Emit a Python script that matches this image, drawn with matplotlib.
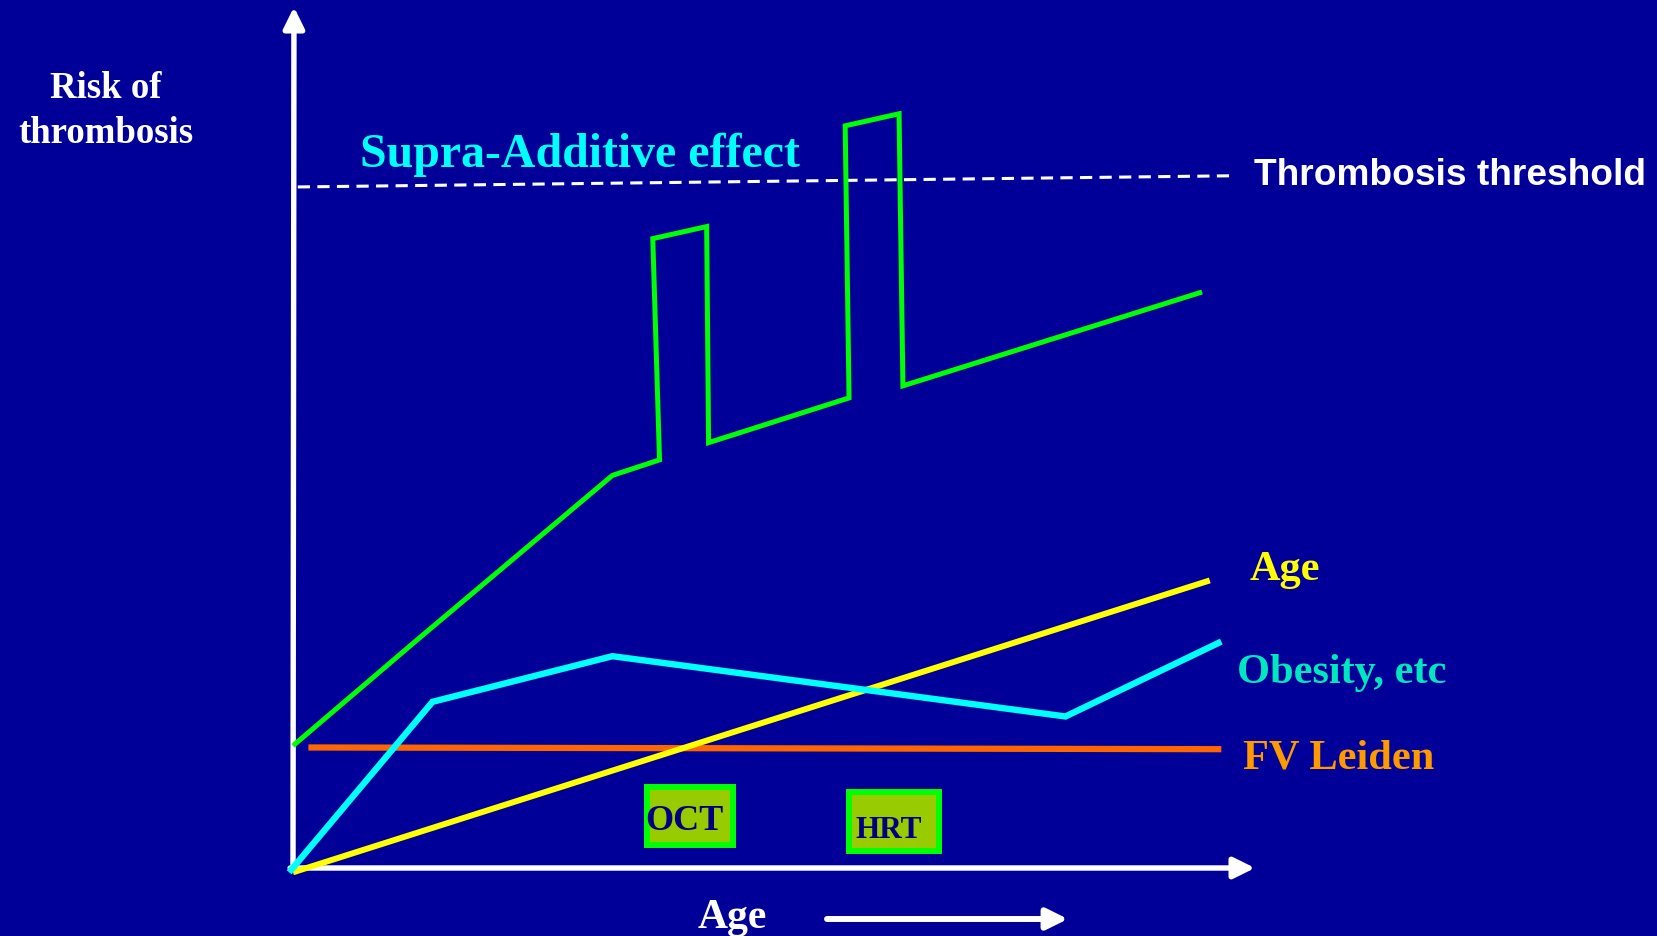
import matplotlib
matplotlib.use("Agg")
import matplotlib.pyplot as plt
from matplotlib.patches import Rectangle

# ---- data (age on x, relative risk on y; both on a 0-100 scale) ----
age_line_age = [0.0, 95.3]
age_line_risk = [-0.5, 33.4]

obesity_age = [-0.4, 14.5, 33.2, 80.3, 96.5]
obesity_risk = [-0.5, 19.3, 24.6, 17.6, 26.3]

fvl_age = [1.6, 96.5]
fvl_risk = [14.0, 13.8]

combined_age = [0.0, 12.8, 33.2, 38.1, 37.4, 43.0, 43.2, 57.8, 57.4, 63.0, 63.4, 94.5]
combined_risk = [14.2, 26.4, 45.6, 47.4, 73.1, 74.5, 49.4, 54.6, 86.2, 87.6, 56.0, 66.9]

threshold_age = [0.5, 97.8]
threshold_risk = [79.1, 80.4]

series_labels = ["Age", "Obesity, etc", "FV Leiden"]
event_labels = ["OCT", "HRT"]

# ---- figure ----
W, H = 1657, 937
BG = "#000099"
fig = plt.figure(figsize=(W / 100, H / 100), dpi=100, facecolor=BG)

def fx(px):
    return px / W

def fy(py):
    return 1 - py / H

# plotting area: origin of the arrows at pixel (293, 869)
x0, y0, x1, y1 = 293, 869, 1255, 8
ax = fig.add_axes([fx(x0), fy(y0), fx(x1) - fx(x0), fy(y1) - fy(y0)])
ax.set_xlim(0, 100)
ax.set_ylim(0, 100)
ax.set_facecolor("none")
ax.axis("off")

serif = "Liberation Serif"
sans = "Liberation Sans"

# axes arrows
arrow_kw = dict(arrowstyle="-|>,head_length=0.85,head_width=0.42", color="white",
                lw=3.9, mutation_scale=15, shrinkA=0, shrinkB=0)
ax.annotate("", xy=(0.1, 100), xytext=(0, 0), xycoords="data",
            arrowprops=arrow_kw, annotation_clip=False)
ax.annotate("", xy=(100, 0), xytext=(-0.3, 0), xycoords="data",
            arrowprops=arrow_kw, annotation_clip=False)

# threshold
ax.plot(threshold_age, threshold_risk, color="white", lw=2.2,
        dashes=(4.0, 2.4), clip_on=False, zorder=2)

# risk curves
ax.plot(fvl_age, fvl_risk, color="#ff6600", lw=4.5, clip_on=False, zorder=3,
        solid_capstyle="butt")
ax.plot(age_line_age, age_line_risk, color="#ffff00", lw=4.3, clip_on=False, zorder=4,
        solid_capstyle="butt")
ax.plot(obesity_age, obesity_risk, color="#00ffff", lw=4.6, clip_on=False, zorder=5,
        solid_capstyle="butt", solid_joinstyle="miter")
ax.plot(combined_age, combined_risk, color="#00ff00", lw=3.6, clip_on=False, zorder=6,
        solid_capstyle="butt", solid_joinstyle="miter")

# event boxes (OCT, HRT)
def box(left, top, right, bottom):
    r = Rectangle((fx(left), fy(bottom)), fx(right) - fx(left), fy(top) - fy(bottom),
                  transform=fig.transFigure, facecolor="#99cc00", edgecolor="#00ff00",
                  lw=4.3, zorder=1)
    fig.add_artist(r)

box(647, 788, 733, 846)
box(849, 793, 939, 852)

fig.text(fx(645), fy(830), event_labels[0], color="#000080", fontsize=26,
         fontfamily=serif, fontweight="bold", va="baseline", ha="left", zorder=3)
fig.text(fx(855), fy(838), event_labels[1], color="#000080", fontsize=22.5,
         fontfamily=serif, fontweight="bold", va="baseline", ha="left", zorder=3)

# titles and labels
fig.text(fx(106), fy(98), "Risk of", color="white", fontsize=26.5,
         fontfamily=serif, fontweight="bold", ha="center", va="baseline")
fig.text(fx(106), fy(143), "thrombosis", color="white", fontsize=26.5,
         fontfamily=serif, fontweight="bold", ha="center", va="baseline")
fig.text(fx(360), fy(167), "Supra-Additive effect", color="#00ffff", fontsize=34.5,
         fontfamily=serif, fontweight="bold", ha="left", va="baseline")
fig.text(fx(1254), fy(185), "Thrombosis threshold", color="white", fontsize=26.7,
         fontfamily=sans, fontweight="bold", ha="left", va="baseline")

fig.text(fx(1250), fy(580), series_labels[0], color="#ffff00", fontsize=30.5,
         fontfamily=serif, fontweight="bold", ha="left", va="baseline")
fig.text(fx(1237), fy(683), series_labels[1], color="#00e6bf", fontsize=30.5,
         fontfamily=serif, fontweight="bold", ha="left", va="baseline")
fig.text(fx(1243), fy(769), series_labels[2], color="#ff9900", fontsize=30.5,
         fontfamily=serif, fontweight="bold", ha="left", va="baseline")

# x-axis caption with its arrow
fig.text(fx(698), fy(928), "Age", color="white", fontsize=30,
         fontfamily=serif, fontweight="bold", ha="left", va="baseline")
fig.add_artist(matplotlib.patches.FancyArrowPatch(
    (fx(827), fy(920)), (fx(1068), fy(920)), transform=fig.transFigure,
    arrowstyle="-|>,head_length=0.85,head_width=0.42", mutation_scale=15,
    color="white", lw=4.3, shrinkA=0, shrinkB=0))

fig.savefig("out.png", dpi=100, facecolor=BG)
